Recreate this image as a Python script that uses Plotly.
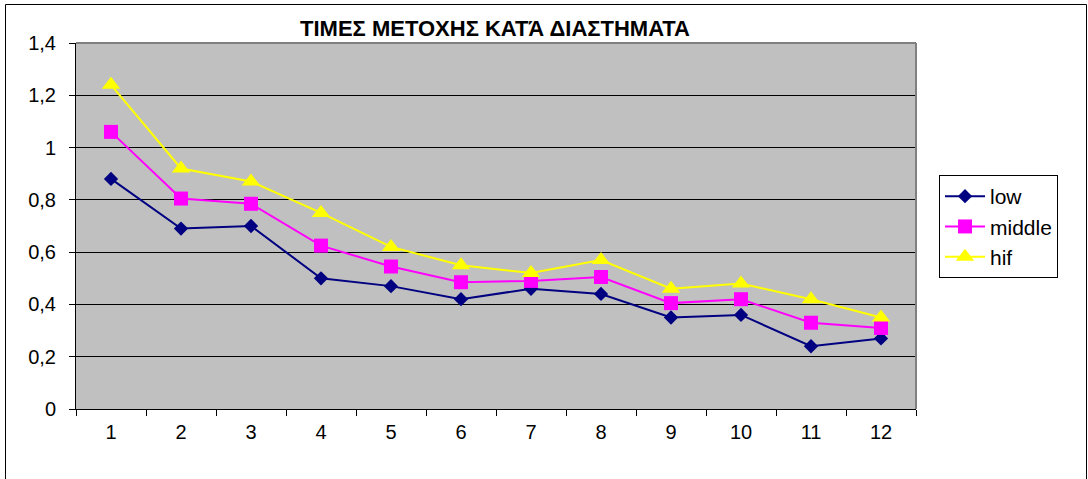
import plotly.graph_objects as go

categories = [str(i) for i in range(1, 13)]
low = [0.88, 0.69, 0.70, 0.50, 0.47, 0.42, 0.46, 0.44, 0.35, 0.36, 0.24, 0.27]
middle = [1.06, 0.805, 0.785, 0.625, 0.545, 0.485, 0.49, 0.505, 0.405, 0.42, 0.33, 0.31]
hif = [1.24, 0.92, 0.87, 0.75, 0.62, 0.55, 0.52, 0.57, 0.46, 0.48, 0.42, 0.35]
series_names = ["low", "middle", "hif"]
title_text = "ΤΙΜΕΣ ΜΕΤΟΧΗΣ ΚΑΤΆ ΔΙΑΣΤΗΜΑΤΑ"

W, H = 1088, 479
L, R, T, B = 76, 916, 43, 409

fig = go.Figure()
fig.add_trace(go.Scatter(x=categories, y=low, name=series_names[0], mode="lines+markers",
                         line=dict(color="#000080", width=2),
                         marker=dict(symbol="diamond", size=11, color="#000080")))
fig.add_trace(go.Scatter(x=categories, y=middle, name=series_names[1], mode="lines+markers",
                         line=dict(color="#FF00FF", width=2),
                         marker=dict(symbol="square", size=14, color="#FF00FF")))
fig.add_trace(go.Scatter(x=categories, y=hif, name=series_names[2], mode="lines+markers",
                         line=dict(color="#FFFF00", width=2),
                         marker=dict(symbol="triangle-up", size=16, color="#FFFF00")))

pw, ph = R - L, B - T
def px_x(p):
    return (p - L) / pw
def px_y(p):
    return (B - p) / ph

fig.update_layout(
    width=W, height=H,
    margin=dict(l=L, r=W - R, t=T, b=H - B),
    paper_bgcolor="white",
    plot_bgcolor="#C0C0C0",
    separators=",.",
    font=dict(family="Liberation Sans, Arial, sans-serif", size=20, color="black"),
    title=dict(text="<b>" + title_text + "</b>", x=px_x(495), xref="paper", xanchor="center",
               y=1 - 28 / H, yanchor="middle", font=dict(size=22)),
    xaxis=dict(type="category", range=[-0.5, 11.5], tickson="boundaries", ticks="outside",
               ticklen=6, tickcolor="black", showline=True, linecolor="black", linewidth=1,
               showgrid=False, ticklabelstandoff=5, zeroline=False),
    yaxis=dict(range=[0, 1.4], dtick=0.2, ticks="outside", ticklen=6, tickcolor="black",
               showline=True, linecolor="black", linewidth=1, showgrid=True,
               gridcolor="black", gridwidth=1, zeroline=False, ticklabelstandoff=9),
    legend=dict(x=px_x(939), y=px_y(175), xanchor="left", yanchor="top",
                bordercolor="black", borderwidth=1, bgcolor="white",
                font=dict(size=21), tracegroupgap=0, itemwidth=40),
    showlegend=True,
    shapes=[
        dict(type="line", xref="paper", yref="paper", x0=0, x1=1, y0=1, y1=1,
             line=dict(color="#808080", width=2), layer="above"),
        dict(type="line", xref="paper", yref="paper", x0=1, x1=1, y0=0, y1=1,
             line=dict(color="#808080", width=2), layer="above"),
        dict(type="rect", xref="paper", yref="paper",
             x0=px_x(5.5), x1=px_x(1086.5), y0=px_y(490), y1=px_y(4.5),
             line=dict(color="black", width=1), fillcolor="rgba(0,0,0,0)", layer="below"),
    ],
)

fig.write_html("out.html", config={"displayModeBar": False},
               post_script="document.body.style.margin='0';document.body.style.overflow='hidden';")
